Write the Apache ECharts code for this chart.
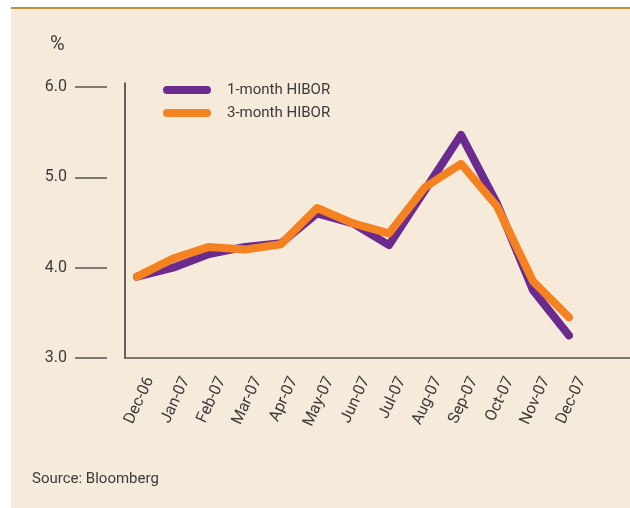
<!DOCTYPE html>
<html>
<head>
<meta charset="utf-8">
<script src="https://cdn.jsdelivr.net/npm/echarts@6/dist/echarts.min.js"></script>
<style>
  html, body { margin: 0; padding: 0; background: #fff; }
  #panel {
    position: absolute; left: 11px; top: 7px; width: 619px; height: 499px;
    background: #f6eadb; border-top: 2px solid #c48b3d;
  }
  #chart { position: absolute; left: 0; top: 0; width: 630px; height: 508px; }
</style>
</head>
<body>
<div id="panel"></div>
<div id="chart"></div>
<script>
const categories = ["Dec-06", "Jan-07", "Feb-07", "Mar-07", "Apr-07", "May-07", "Jun-07",
  "Jul-07", "Aug-07", "Sep-07", "Oct-07", "Nov-07", "Dec-07"];
const hibor1m = [3.90, 4.00, 4.15, 4.23, 4.27, 4.60, 4.49, 4.25, 4.86, 5.47, 4.71, 3.75, 3.25];
const hibor3m = [3.90, 4.10, 4.23, 4.20, 4.26, 4.66, 4.49, 4.38, 4.89, 5.15, 4.68, 3.85, 3.45];

const FONT = "Roboto, sans-serif";
const TEXT = "#3b3b3b";
const AXIS = "#555";
const COLORS = { m1: "#6b2a8e", m3: "#f58220" };
// x labels sit a little right of their category in the original
const LABEL_SHIFT = 13;

const capsule = "path://M4,0H44A4,4 0 0 1 44,8H4A4,4 0 0 1 4,0Z";

const chart = echarts.init(document.getElementById("chart"), null, { renderer: "canvas" });

chart.setOption({
  animation: false,
  backgroundColor: "transparent",
  title: [
    { text: "%", left: 50, top: 35, padding: 0, textStyle: { fontFamily: FONT, fontSize: 20, fontWeight: "normal", color: TEXT } },
    { text: "Source: Bloomberg", left: 32, top: 472, padding: 0, textStyle: { fontFamily: FONT, fontSize: 15, fontWeight: "normal", color: TEXT } },
  ],
  legend: {
    left: 158, top: 77, orient: "vertical",
    itemWidth: 48, itemHeight: 8, itemGap: 7,
    textStyle: { fontFamily: FONT, fontSize: 15, color: TEXT, lineHeight: 16, padding: [0, 0, 0, 11] },
    data: [
      { name: "1-month HIBOR", icon: capsule },
      { name: "3-month HIBOR", icon: capsule },
    ],
  },
  grid: [
    { left: 137, width: 432, top: 87, height: 271 },
    { left: 125, right: 0, top: 83, height: 275 },
    { left: 137 + LABEL_SHIFT, width: 432, top: 87, height: 271 },
  ],
  xAxis: [
    {
      gridIndex: 0, type: "category", boundaryGap: false, data: categories,
      axisLine: { show: false }, axisTick: { show: false }, axisLabel: { show: false },
    },
    {
      gridIndex: 1, type: "value", min: 0, max: 1,
      axisLine: { show: true, onZero: false, lineStyle: { color: AXIS, width: 1.5 } },
      axisTick: { show: false }, axisLabel: { show: false }, splitLine: { show: false },
    },
    {
      gridIndex: 2, type: "category", boundaryGap: false, data: categories,
      axisLine: { show: false }, axisTick: { show: false },
      axisLabel: { rotate: 65, margin: 20, interval: 0, fontFamily: FONT, fontSize: 16, color: TEXT },
    },
  ],
  yAxis: [
    {
      gridIndex: 0, type: "value", min: 3, max: 6, interval: 1, offset: 30,
      axisLine: { show: false },
      axisTick: { show: true, length: 32, lineStyle: { color: AXIS, width: 1.5 } },
      axisLabel: { margin: 40, fontFamily: FONT, fontSize: 16, color: TEXT, formatter: (v) => v.toFixed(1) },
      splitLine: { show: false },
    },
    {
      gridIndex: 1, type: "value", min: 0, max: 1,
      axisLine: { show: true, onZero: false, lineStyle: { color: "#333", width: 1.5 } },
      axisTick: { show: false }, axisLabel: { show: false }, splitLine: { show: false },
    },
    { gridIndex: 2, type: "value", show: false },
  ],
  series: [
    {
      name: "1-month HIBOR", type: "line", xAxisIndex: 0, yAxisIndex: 0,
      data: hibor1m, symbol: "none", color: COLORS.m1,
      lineStyle: { width: 8, color: COLORS.m1, cap: "round", join: "round" },
    },
    {
      name: "3-month HIBOR", type: "line", xAxisIndex: 0, yAxisIndex: 0,
      data: hibor3m, symbol: "none", color: COLORS.m3,
      lineStyle: { width: 8, color: COLORS.m3, cap: "round", join: "round" },
    },
  ],
});
</script>
</body>
</html>
